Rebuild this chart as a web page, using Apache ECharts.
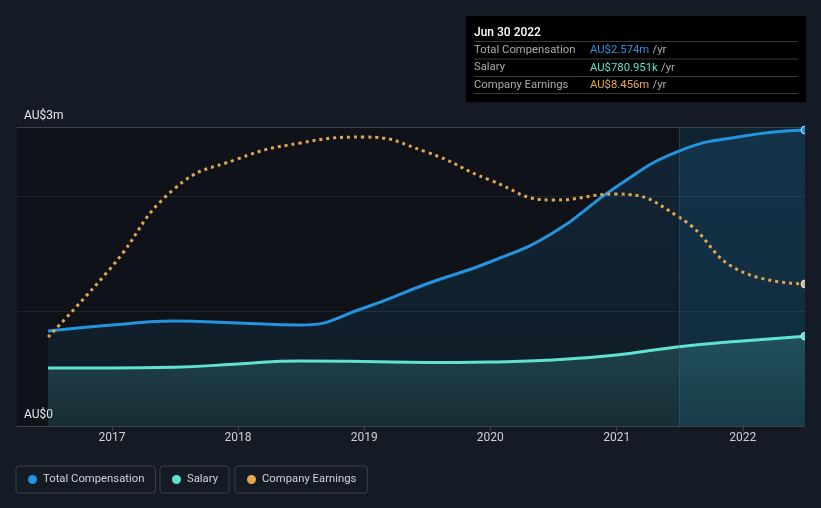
<!DOCTYPE html>
<html>
<head>
<meta charset="utf-8">
<script src="https://cdn.jsdelivr.net/npm/echarts@6/dist/echarts.min.js"></script>
<style>
html,body{margin:0;padding:0;background:#151b25;}
#chart{width:821px;height:508px;}
</style>
</head>
<body>
<div id="chart"></div>
<script>
// ---- data ----
const dates = ['2016-06-30','2016-12-31','2017-06-30','2017-12-31','2018-06-30','2018-12-31','2019-06-30','2019-12-31','2020-06-30','2020-12-31','2021-06-30','2021-12-31','2022-06-30'];
const totalComp = [0.826,0.878,0.913,0.896,0.878,1.026,1.235,1.426,1.678,2.08,2.39,2.52,2.574]; // AU$ m
const salary = [0.504,0.504,0.51,0.54,0.565,0.561,0.552,0.557,0.574,0.617,0.69,0.739,0.780951]; // AU$ m
const earnings = [5.30,9.47,14.11,15.90,16.85,17.2,16.31,14.64,13.45,13.81,12.44,9.17,8.456]; // AU$ m
const seriesNames = ['Total Compensation','Salary','Company Earnings'];
const yTickLabels = {min:'AU$0', max:'AU$3m'};
const tooltipTitle = 'Jun 30 2022';
const highlightStart = '2021-06-30';
const highlightEnd = '2022-06-30';

const C_BLUE = '#2394df', C_TEAL = '#5fe2d0', C_ORANGE = '#e6a74c';
const BG = '#151b25';
const FONT = 'Roboto';

function withEndDot(vals, color) {
  return vals.map((v, i) => {
    const item = {value: [dates[i], v]};
    if (i === vals.length - 1) {
      item.symbol = 'circle';
      item.symbolSize = 8;
      item.itemStyle = {color: color, borderColor: 'rgba(230,240,250,0.8)', borderWidth: 1};
    }
    return item;
  });
}
function fmtM(v){ return 'AU$' + v.toFixed(3) + 'm'; }
function fmtK(v){ return 'AU$' + (v*1000).toFixed(3) + 'k'; }

const legendCommon = {
  top: 466, icon: 'circle', itemWidth: 9, itemHeight: 9,
  padding: [8, 11, 8, 12], borderColor: '#3b4049', borderWidth: 1, borderRadius: 3,
  selectedMode: false,
  textStyle: {color: '#cfd3d8', fontSize: 11.3, fontFamily: FONT, padding: [0, 0, 0, 1]},
  itemStyle: {borderWidth: 0}
};

const tipRows = [
  {label: seriesNames[0], value: fmtM(totalComp[totalComp.length-1]), color: C_BLUE},
  {label: seriesNames[1], value: fmtK(salary[salary.length-1]), color: C_TEAL},
  {label: seriesNames[2], value: fmtM(earnings[earnings.length-1]), color: C_ORANGE}
];
const tipChildren = [
  {type:'rect', shape:{x:0,y:0,width:340,height:86}, style:{fill:'#000'}},
  {type:'text', x:8, y:10.5, style:{text: tooltipTitle, fill:'#fff', font:'500 12px Roboto'}}
];
[25.5, 43, 60.5, 77.5].forEach(yy => tipChildren.push({type:'line', shape:{x1:8,y1:yy,x2:332,y2:yy}, style:{stroke:'#3a3a3a', lineWidth:1}}));
tipRows.forEach((r, i) => {
  const yy = 28.5 + i * 17.5;
  tipChildren.push({type:'text', x:8, y:yy, style:{text:r.label, fill:'#a9abae', font:'11.3px Roboto'}});
  tipChildren.push({type:'text', x:124, y:yy, style:{
    text:'{v|' + r.value + '} {u|/yr}',
    rich:{v:{fill:r.color, font:'11.3px Roboto'}, u:{fill:'#a9abae', font:'11.3px Roboto'}}
  }});
});

const chart = echarts.init(document.getElementById('chart'), null, {renderer:'canvas'});
chart.setOption({
  backgroundColor: BG,
  animation: false,
  textStyle: {fontFamily: FONT},
  grid: {left: 17, right: 16, top: 127, bottom: 82, show: true, backgroundColor: '#0f1319', borderWidth: 0},
  legend: [
    Object.assign({}, legendCommon, {left: 16, data: [seriesNames[0]]}),
    Object.assign({}, legendCommon, {left: 160, data: [seriesNames[1]]}),
    Object.assign({}, legendCommon, {left: 235, data: [seriesNames[2]]})
  ],
  xAxis: {
    type: 'time', min: '2016-04-01', max: '2022-06-30',
    minInterval: 365 * 24 * 3600 * 1000,
    axisLine: {lineStyle: {color: '#3d424b', width: 1}},
    axisTick: {show: true, length: 5, lineStyle: {color: '#3d424b'}},
    axisLabel: {color: '#cdd0d4', fontSize: 12, margin: 6, formatter: '{yyyy}'},
    splitLine: {show: false}
  },
  yAxis: [
    {
      type: 'value', min: 0, max: 2.6, interval: 1,
      axisLine: {show: false}, axisTick: {show: false},
      axisLabel: {
        inside: true, margin: 7, verticalAlign: 'bottom', color: '#e6e8ea', fontSize: 12,
        padding: [0, 0, 5, 0], showMaxLabel: true, showMinLabel: true,
        formatter: v => v === 0 ? yTickLabels.min : (v >= 2.6 ? yTickLabels.max : '')
      },
      splitLine: {show: true, lineStyle: {color: ['#2a2f37', '#20252d', '#20252d', '#3b4049'], width: 1}}
    },
    {type: 'value', min: 0, max: 17.8, show: false, splitLine: {show: false}}
  ],
  series: [
    {
      name: seriesNames[0], type: 'line', yAxisIndex: 0, smooth: 0.5,
      symbol: 'none', data: withEndDot(totalComp, C_BLUE),
      lineStyle: {color: C_BLUE, width: 3}, itemStyle: {color: C_BLUE},
      areaStyle: {color: new echarts.graphic.LinearGradient(0,0,0,1,[{offset:0,color:'rgba(35,148,223,0.2)'},{offset:1,color:'rgba(35,148,223,0.1)'}])},
      markArea: {silent: true, itemStyle: {color: 'rgba(25,125,175,0.16)'}, data: [[{xAxis: highlightStart}, {xAxis: highlightEnd}]]},
      markLine: {silent: true, symbol: 'none', label: {show: false}, lineStyle: {color: 'rgba(50,95,120,0.45)', width: 1, type: 'solid'}, data: [{xAxis: highlightStart}]},
      z: 2
    },
    {
      name: seriesNames[1], type: 'line', yAxisIndex: 0, smooth: 0.5,
      symbol: 'none', data: withEndDot(salary, C_TEAL),
      lineStyle: {color: C_TEAL, width: 3}, itemStyle: {color: C_TEAL},
      areaStyle: {color: new echarts.graphic.LinearGradient(0,0,0,1,[{offset:0,color:'rgba(95,226,208,0.27)'},{offset:1,color:'rgba(95,226,208,0.12)'}])},
      z: 3
    },
    {
      name: seriesNames[2], type: 'line', yAxisIndex: 1, smooth: 0.5,
      symbol: 'none', data: withEndDot(earnings, '#d2b98a'),
      lineStyle: {color: C_ORANGE, width: 3, type: [3, 4]}, itemStyle: {color: C_ORANGE},
      z: 4
    }
  ],
  graphic: [
    {type: 'rect', left: 805, top: 110, shape: {width: 16, height: 320}, style: {fill: BG}, z: 100},
    {type: 'group', left: 466, top: 16, children: tipChildren, z: 110}
  ]
});
</script>
</body>
</html>
